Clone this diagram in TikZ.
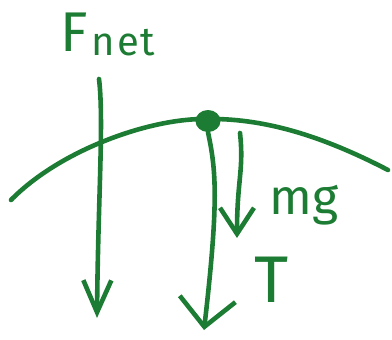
\documentclass[tikz,border=0pt]{standalone}
\usepackage{fontspec}
\setmainfont{Fira Sans}
\usetikzlibrary{arrows.meta,shapes.geometric}
\definecolor{sketchgreen}{RGB}{29,124,51}

\begin{document}
\begin{tikzpicture}[
    x=1pt, y=-1pt,
    ink/.style={sketchgreen, line width=4.6pt, line cap=round, line join=round},
    force/.style 2 args={ink, -{Straight Barb[length=#1, width=#2, line width=4.6pt]}},
    bob/.style={ellipse, fill=sketchgreen, inner sep=0pt, minimum width=25pt, minimum height=22pt},
    lbl/.style={text=sketchgreen, inner sep=0pt}
]
\useasboundingbox (0,0) rectangle (392,340);

% path of the bob
\draw[ink] (11,200) .. controls (60,150) and (150,118) .. (207,119)
    .. controls (270,118) and (330,140) .. (388,170);

% the bob and the ends of the forces
\node[bob] (bob) at (208,121) {};
\coordinate (Tend) at (204,330);
\coordinate (mgtop) at (240,133);
\coordinate (mgend) at (237,238);
\coordinate (Ftop) at (99,79);
\coordinate (Fend) at (97,318);

% forces
\draw[force={28pt}{56pt}] (bob.south) .. controls (216,170) and (219,200) .. (Tend);
\draw[force={26pt}{34pt}] (mgtop) .. controls (244,170) and (237,180) .. (mgend);
\draw[force={32pt}{28pt}] (Ftop) .. controls (104,120) and (98,200) .. (Fend);

% labels
\node[lbl, font=\fontsize{50}{50}\selectfont] (mg) at (304,205) {mg};
\node[lbl, font=\fontsize{66}{66}\selectfont] (T) at (272,280) {T};
\node[lbl, anchor=base west] (Fnet) at (60,52)
    {\fontsize{56}{56}\selectfont F\hspace{4pt}\fontsize{40}{40}\selectfont\raisebox{-4pt}{n\hspace{2pt}e\hspace{2pt}t}};
\end{tikzpicture}
\end{document}
